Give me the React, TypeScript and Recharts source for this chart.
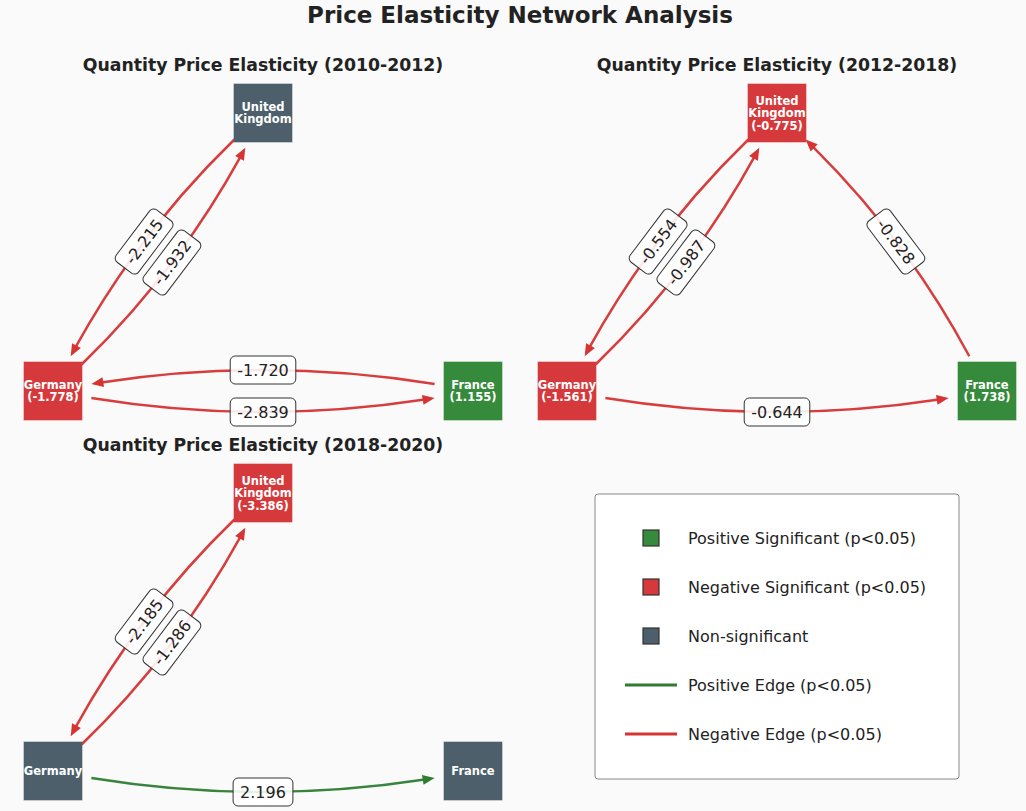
import React from 'react'
import { ScatterChart, Scatter, XAxis, YAxis } from 'recharts'

// node layout in data space (UK top, Germany bottom-left, France bottom-right)
const countries = ['United Kingdom', 'Germany', 'France']
const nodeX = [0.5, 0, 1]
const nodeY = [1, 0, 0]

const periods = ['2010-2012', '2012-2018', '2018-2020']

// node elasticity, null = non-significant
const nodeValues2010 = [null, -1.778, 1.155]
const nodeValues2012 = [-0.775, -1.561, 1.738]
const nodeValues2018 = [-3.386, null, null]

// edges: index into countries
const edgeFrom2010 = [0, 1, 2, 1]
const edgeTo2010 = [1, 0, 1, 2]
const edgeValues2010 = [-2.215, -1.932, -1.72, -2.839]

const edgeFrom2012 = [0, 1, 2, 1]
const edgeTo2012 = [1, 0, 0, 2]
const edgeValues2012 = [-0.554, -0.987, -0.828, -0.644]

const edgeFrom2018 = [0, 1, 1]
const edgeTo2018 = [1, 0, 2]
const edgeValues2018 = [-2.185, -1.286, 2.196]

const legendNodeLabels = ['Positive Significant (p<0.05)', 'Negative Significant (p<0.05)', 'Non-significant']
const legendEdgeLabels = ['Positive Edge (p<0.05)', 'Negative Edge (p<0.05)']

const FONT = '"DejaVu Sans", Verdana, sans-serif'
const NODE_POS = '#368a3b'
const NODE_NEG = '#d5393c'
const NODE_NS = '#4d5f6a'
const EDGE_POS = '#2e7d32'
const EDGE_NEG = '#d63333'
const RAD = 0.1
const SHRINK = 39
const HEAD_LEN = 12
const HEAD_W = 5

type Pt = { x: number; y: number }

const bez = (p0: Pt, c: Pt, p2: Pt, t: number): Pt => {
  const u = 1 - t
  return { x: u * u * p0.x + 2 * u * t * c.x + t * t * p2.x, y: u * u * p0.y + 2 * u * t * c.y + t * t * p2.y }
}
const dist = (a: Pt, b: Pt) => Math.hypot(a.x - b.x, a.y - b.y)

// t where the curve is `d` px away from the start (or end)
function findT(p0: Pt, c: Pt, p2: Pt, d: number, fromEnd: boolean) {
  let lo = fromEnd ? 0.5 : 0
  let hi = fromEnd ? 1 : 0.5
  for (let i = 0; i < 40; i++) {
    const mid = (lo + hi) / 2
    const p = bez(p0, c, p2, mid)
    const dd = fromEnd ? dist(p, p2) : dist(p, p0)
    if (fromEnd) {
      if (dd > d) lo = mid
      else hi = mid
    } else {
      if (dd < d) lo = mid
      else hi = mid
    }
  }
  return (lo + hi) / 2
}

const charW = (ch: string) => ('0123456789'.includes(ch) ? 0.636 : ch === '-' ? 0.361 : ch === '.' ? 0.318 : 0.6)

function EdgeShape({ points, value }: { points: Pt[]; value: number }) {
  if (!points || points.length < 2) return <g />
  const p0 = points[0]
  const p2 = points[1]
  const dx = p2.x - p0.x
  const dy = p2.y - p0.y
  const c = { x: (p0.x + p2.x) / 2 - RAD * dy, y: (p0.y + p2.y) / 2 + RAD * dx }
  const a = findT(p0, c, p2, SHRINK, false)
  const tip = findT(p0, c, p2, SHRINK, true)
  const b = findT(p0, c, p2, SHRINK + HEAD_LEN - 2, true)
  const s = bez(p0, c, p2, a)
  const e = bez(p0, c, p2, b)
  const q = {
    x: p0.x * (1 - a) * (1 - b) + c.x * ((1 - a) * b + a * (1 - b)) + p2.x * a * b,
    y: p0.y * (1 - a) * (1 - b) + c.y * ((1 - a) * b + a * (1 - b)) + p2.y * a * b,
  }
  const tp = bez(p0, c, p2, tip)
  const bp = bez(p0, c, p2, findT(p0, c, p2, SHRINK + HEAD_LEN, true))
  const ux = (tp.x - bp.x) / dist(tp, bp)
  const uy = (tp.y - bp.y) / dist(tp, bp)
  const color = value > 0 ? EDGE_POS : EDGE_NEG
  const mid = bez(p0, c, p2, 0.5)
  let ang = (Math.atan2(dy, dx) * 180) / Math.PI
  if (ang > 90) ang -= 180
  if (ang < -90) ang += 180
  const txt = value.toFixed(3)
  const w = txt.split('').reduce((acc, ch) => acc + charW(ch) * 16, 0) + 14
  const h = 28
  return (
    <g>
      <path d={`M${s.x},${s.y} Q${q.x},${q.y} ${e.x},${e.y}`} fill="none" stroke={color} strokeWidth={2.5} strokeOpacity={0.95} />
      <polygon
        points={`${tp.x},${tp.y} ${bp.x - uy * HEAD_W},${bp.y + ux * HEAD_W} ${bp.x + uy * HEAD_W},${bp.y - ux * HEAD_W}`}
        fill={color}
      />
      <g transform={`translate(${mid.x},${mid.y}) rotate(${ang})`}>
        <rect x={-w / 2} y={-h / 2} width={w} height={h} rx={5} fill="#ffffff" fillOpacity={0.88} stroke="#333" strokeWidth={1} />
        <text x={0} y={0} dy="0.36em" textAnchor="middle" fontSize={16} fill="#222" fontFamily={FONT}>
          {txt}
        </text>
      </g>
    </g>
  )
}

function NodeShape(props: any) {
  const { cx, cy, payload } = props
  const v = payload.value as number | null
  const fill = v === null ? NODE_NS : v > 0 ? NODE_POS : NODE_NEG
  const lines = payload.name === 'United Kingdom' ? ['United', 'Kingdom'] : [payload.name]
  if (v !== null) lines.push(`(${v.toFixed(3)})`)
  const lh = 12.5
  const start = cy - ((lines.length - 1) * lh) / 2
  return (
    <g>
      <rect x={cx - 29} y={cy - 29} width={58} height={58} fill={fill} stroke={fill} strokeOpacity={0.6} strokeWidth={1} />
      {lines.map((l, i) => (
        <text key={i} x={cx} y={start + i * lh} dy="0.36em" textAnchor="middle" fontSize={11.5} fontWeight="bold" fill="#fff" fontFamily={FONT}>
          {l}
        </text>
      ))}
    </g>
  )
}

function Panel({ left, top, period, values, from, to, edgeValues }: any) {
  const nodes = countries.map((name, i) => ({ name, x: nodeX[i], y: nodeY[i], value: values[i] }))
  return (
    <div style={{ position: 'absolute', left, top, width: 513, height: 390 }}>
      <div
        style={{
          position: 'absolute',
          left: 0,
          width: 526,
          top: 15,
          textAlign: 'center',
          fontFamily: FONT,
          fontWeight: 'bold',
          fontSize: 17.3,
          color: '#222',
        }}
      >
        Quantity Price Elasticity ({period})
      </div>
      <ScatterChart width={513} height={390} margin={{ top: 73, right: 40, bottom: 39, left: 53 }}>
        <XAxis type="number" dataKey="x" domain={[0, 1]} hide />
        <YAxis type="number" dataKey="y" domain={[0, 1]} hide />
        {edgeValues.map((val: number, i: number) => (
          <Scatter
            key={`e${i}`}
            data={[
              { x: nodeX[from[i]], y: nodeY[from[i]] },
              { x: nodeX[to[i]], y: nodeY[to[i]] },
            ]}
            lineType="joint"
            line={(p: any) => <EdgeShape points={p.points} value={val} />}
            shape={() => <g />}
            isAnimationActive={false}
          />
        ))}
        <Scatter data={nodes} shape={NodeShape} isAnimationActive={false} />
      </ScatterChart>
    </div>
  )
}

export default function App() {
  const swatches = [NODE_POS, NODE_NEG, NODE_NS]
  const edgeColors = [EDGE_POS, EDGE_NEG]
  return (
    <div style={{ position: 'relative', width: 1026, height: 811, background: '#fafafa', overflow: 'hidden' }}>
      <style>{'body{margin:0}'}</style>
      <div
        style={{
          position: 'absolute',
          top: 2,
          left: 0,
          width: 1040,
          textAlign: 'center',
          fontFamily: FONT,
          fontWeight: 'bold',
          fontSize: 23,
          color: '#222',
        }}
      >
        Price Elasticity Network Analysis
      </div>
      <Panel left={0} top={40} period={periods[0]} values={nodeValues2010} from={edgeFrom2010} to={edgeTo2010} edgeValues={edgeValues2010} />
      <Panel left={514} top={40} period={periods[1]} values={nodeValues2012} from={edgeFrom2012} to={edgeTo2012} edgeValues={edgeValues2012} />
      <Panel left={0} top={420} period={periods[2]} values={nodeValues2018} from={edgeFrom2018} to={edgeTo2018} edgeValues={edgeValues2018} />
      <svg style={{ position: 'absolute', left: 594, top: 493 }} width={368} height={290}>
        <rect x={1} y={1} width={364} height={285} rx={3} fill="#fff" stroke="#888" strokeWidth={1} />
        {legendNodeLabels.map((l, i) => (
          <g key={l}>
            <rect x={49} y={37 + i * 49} width={16} height={16} fill={swatches[i]} stroke="#333" strokeWidth={1.2} />
            <text x={94} y={45 + i * 49} dy="0.36em" fontSize={16} fill="#222" fontFamily={FONT}>
              {l}
            </text>
          </g>
        ))}
        {legendEdgeLabels.map((l, i) => (
          <g key={l}>
            <line x1={31} x2={83} y1={192 + i * 49} y2={192 + i * 49} stroke={edgeColors[i]} strokeWidth={3} />
            <text x={94} y={192 + i * 49} dy="0.36em" fontSize={16} fill="#222" fontFamily={FONT}>
              {l}
            </text>
          </g>
        ))}
      </svg>
    </div>
  )
}
